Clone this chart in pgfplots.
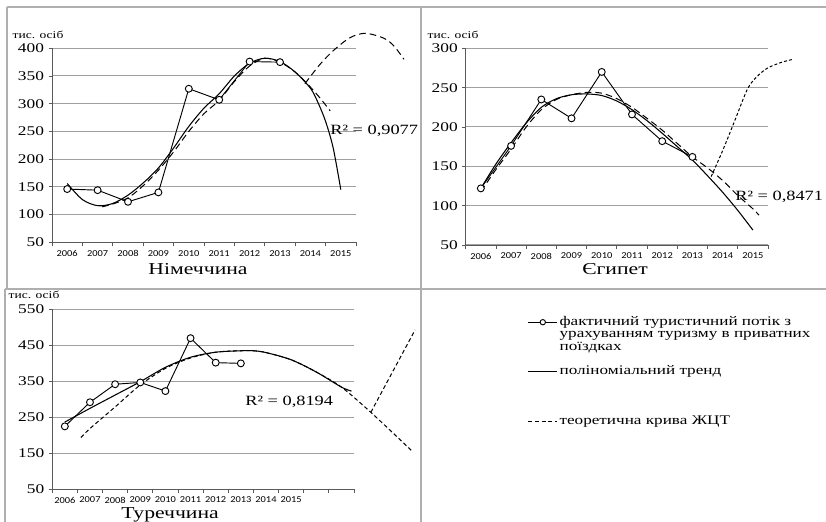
\documentclass[border=0pt]{standalone}
\usepackage{fontspec}
\setmainfont[FakeStretch=1.3]{Liberation Serif}
\newfontfamily\calib[FakeStretch=1.15]{Carlito}
\usepackage{pgfplots}
\pgfplotsset{compat=1.18}
\definecolor{gridc}{RGB}{160,160,160}
\definecolor{framec}{RGB}{175,175,175}
\definecolor{axc}{RGB}{90,90,90}
\pgfplotsset{
  panel/.style={
    scale only axis, anchor=south west, clip=false,
    axis x line*=bottom, axis y line*=left,
    axis line style={axc, line width=0.6pt, -},
    ymajorgrids, grid style={gridc, line width=0.75pt},
    xtick={0,1,2,3,4,5,6,7,8,9},
    xticklabels={2006,2007,2008,2009,2010,2011,2012,2013,2014,2015},
    major x tick style={draw=none},
    minor x tick style={axc, line width=0.6pt},
    minor tick length=3pt, major tick length=2.5pt,
    tick align=outside,
    ytick style={axc, line width=0.6pt},
    x tick label style={font=\calib\fontsize{6.8}{8}\selectfont},
    y tick label style={font=\fontsize{10}{12}\selectfont},
    /pgf/number format/assume math mode=true,
    /pgf/number format/1000 sep={},
  },
  obs/.style={black, line width=0.7pt, mark=*, mark size=2.6pt, mark options={fill=white, solid, line width=0.7pt}},
  trend/.style={black, line width=0.8pt, smooth, no markers},
  zct/.style={black, line width=0.75pt, smooth, no markers, dash pattern=on 5pt off 3pt},
  zcts/.style={black, line width=0.75pt, smooth, no markers, dash pattern=on 2.2pt off 1.6pt},
}
\begin{document}
\begin{tikzpicture}
\useasboundingbox (0,0) rectangle (619.5pt,391.5pt);
% frames
\begin{scope}[x=0.75pt,y=0.75pt]
\draw[framec, line width=1.1pt] (7,515) -- (826,515);
\draw[framec, line width=1.1pt] (7,515) -- (7,233);
\draw[framec, line width=1.1pt] (5,233) -- (5,0);
\draw[framec, line width=1.1pt] (421,515) -- (421,0);
\draw[framec, line width=1.1pt] (5,233) -- (826,233);
\end{scope}

% ---------------- Німеччина
\begin{axis}[panel, at={(39pt,209.8pt)}, width=228pt, height=145.5pt,
  xmin=-0.5, xmax=9.5, ymin=50, ymax=400, ytick={50,100,...,400},
  minor xtick={-0.5,0.5,...,9.5}]
\addplot[obs] coordinates {(0,146) (1,144) (2,123) (3,140) (4,327) (5,307) (6,376) (7,375)};
\addplot[trend] coordinates {(0,156) (0.5,127) (1,116) (1.5,120) (2,135) (2.5,157) (3,184) (3.5,220) (4,259) (4.5,292) (5,318) (5.5,350) (6,373) (6.5,382) (7,376) (7.5,357) (8,328) (8.25,302) (8.5,268) (8.75,220) (9,145)};
\addplot[zct] coordinates {(1.15,114) (1.5,119) (2,130) (2.5,152) (3,180) (3.5,213) (4,250) (4.5,282) (5,306) (5.5,340) (6,368) (6.5,382) (7,375) (7.5,357) (8,330) (8.35,308) (8.65,287)};
\addplot[zct] coordinates {(7.82,336) (8.3,370) (8.76,396) (9.3,419) (9.81,427) (10.42,418) (10.75,404) (11.08,380)};
\end{axis}

% ---------------- Єгипет
\begin{axis}[panel, at={(349.3pt,207.75pt)}, width=226.7pt, height=147.5pt,
  xmin=-0.5, xmax=9.5, ymin=50, ymax=300, ytick={50,100,...,300},
  minor xtick={-0.5,0.5,...,9.5}]
\addplot[obs] coordinates {(0,122) (1,176) (2,235) (3,211) (4,270) (5,216) (6,182) (7,162)};
\addplot[trend] coordinates {(0,122) (0.5,153) (1,180) (1.5,205) (2,225) (2.5,236) (3,241) (3.5,242) (4,240) (4.5,233) (5,222) (5.5,208) (6,192) (6.5,175) (7,158) (7.5,138) (8,117) (8.5,94) (9,69)};
\addplot[zct] coordinates {(0,118) (0.5,146) (1,172) (1.5,200) (2,222) (2.5,235) (3,241) (3.5,244) (4,243) (4.5,236) (5,225) (5.5,211) (6,196) (6.5,179) (7,162) (7.5,148) (8,132) (8.5,113) (9,96) (9.2,88)};
\addplot[zcts] coordinates {(7.62,137) (8.0,170) (8.4,208) (8.83,249) (9.16,265) (9.49,275) (9.93,282) (10.32,286)};
\end{axis}

% ---------------- Туреччина
\begin{axis}[panel, at={(39.2pt,24.75pt)}, width=226.3pt, height=135pt,
  xmin=-0.5, xmax=11.5, ymin=50, ymax=550, ytick={50,150,...,550},
  minor xtick={-0.5,0.5,...,11.5}]
\addplot[obs] coordinates {(0,224) (1,291) (2,341) (3,346) (4,322) (5,469) (6,401) (7,399)};
\addplot[trend] coordinates {(0,236) (1,274) (2,311) (3,348) (4,388) (5,416) (6,430) (7,434) (7.5,434) (8,429) (9,409) (10,375) (11,333) (11.4,322)};
\addplot[zcts, dash pattern=on 3pt off 2pt] coordinates {(0.64,193) (1,218) (2,278) (3,339) (4,385) (5,414) (6,430) (7,434) (7.5,434) (8,429) (9,409) (10,375) (11,333) (12.17,263) (13.8,156)};
\addplot[zcts, dash pattern=on 3pt off 2pt, sharp plot] coordinates {(12.17,263) (13.93,492)};
\end{axis}

% ---------------- legend
\begin{axis}[hide axis, scale only axis, width=10pt, height=10pt,
  at={(396pt,154.5pt)}, anchor=north west,
  xmin=0, xmax=1, ymin=0, ymax=1,
  legend cell align=left,
  legend style={at={(0,1)}, anchor=north west, draw=none, fill=none,
    inner sep=0pt, outer sep=0pt, row sep=0pt, /tikz/column sep=1.5pt,
    nodes={inner sep=0pt, text height=7pt, text depth=2.3pt, font=\fontsize{9.9}{10}\selectfont}},
  legend image code/.code={\draw[mark repeat=2,mark phase=2,#1] plot coordinates {(0pt,0pt) (10.75pt,0pt) (21.5pt,0pt)};},
]
\addlegendimage{obs, mark size=2pt, line width=0.6pt}
\addlegendentry{фактичний туристичний потік з}
\addlegendimage{empty legend}
\addlegendentry{урахуванням туризму в приватних}
\addlegendimage{empty legend}
\addlegendentry{поїздках}
\addlegendimage{empty legend}
\addlegendentry{\mbox{}}
\addlegendimage{black, line width=0.7pt}
\addlegendentry{поліноміальний тренд}
\addlegendimage{empty legend}
\addlegendentry{\mbox{}}
\addlegendimage{empty legend}
\addlegendentry{\mbox{}}
\addlegendimage{empty legend}
\addlegendentry{\mbox{}}
\addlegendimage{black, line width=0.6pt, dash pattern=on 3pt off 2pt}
\addlegendentry{теоретична крива ЖЦТ}
\end{axis}

% ---------------- texts
\begin{scope}[x=0.75pt,y=0.75pt]
\node[font=\fontsize{7.8}{9}\selectfont] at (38,487) {тис. осіб};
\node[font=\fontsize{7.8}{9}\selectfont] at (453,487) {тис. осіб};
\node[font=\fontsize{7.8}{9}\selectfont] at (34,227) {тис. осіб};
\node[font=\fontsize{12.5}{14}\selectfont] at (198,253) {Німеччина};
\node[font=\fontsize{12.5}{14}\selectfont] at (615,253) {Єгипет};
\node[font=\fontsize{12.5}{14}\selectfont] at (170,7) {Туреччина};
\node[font=\fontsize{10.6}{12}\selectfont, anchor=west, inner sep=0pt] at (330,391) {R² = 0,9077};
\node[font=\fontsize{10.6}{12}\selectfont, anchor=west, inner sep=0pt] at (735,325) {R² = 0,8471};
\node[font=\fontsize{10.6}{12}\selectfont, anchor=west, inner sep=0pt] at (245,120) {R² = 0,8194};
\end{scope}
\end{tikzpicture}
\end{document}
